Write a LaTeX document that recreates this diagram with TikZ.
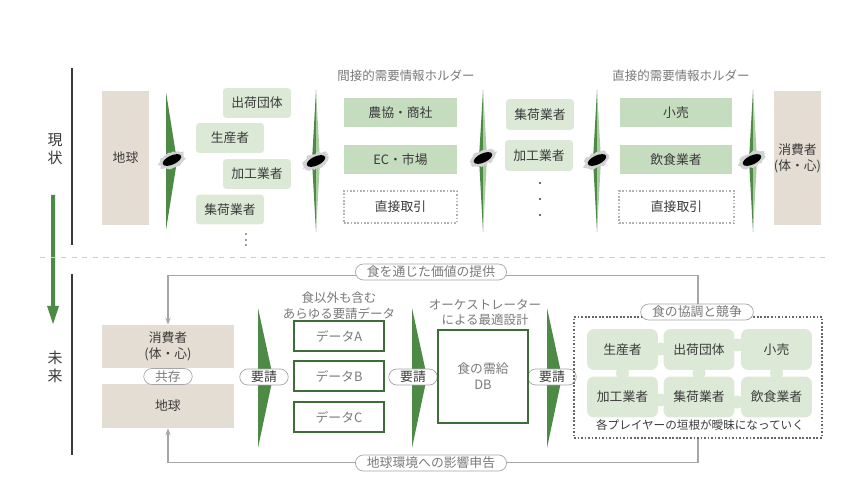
\documentclass[tikz,border=0pt]{standalone}
\usepackage{fontspec}
\setmainfont{Noto Sans CJK JP}
\usetikzlibrary{positioning,shapes.misc,arrows.meta}
\definecolor{beige}{HTML}{E4DDD3}
\definecolor{lgreen}{HTML}{DDE9D7}
\definecolor{mgreen}{HTML}{C5DCBE}
\definecolor{dgreen}{HTML}{4D8A45}
\definecolor{wgreen}{HTML}{A9CB9F}
\definecolor{txt}{HTML}{3A3A3A}
\definecolor{ltxt}{HTML}{7A7A7A}
\def\fnt{\fontsize{7.3}{9}\selectfont}
\def\wedgeA{(166,92) -- (177,161) -- (166,230) -- cycle}
\newcommand\lens[2]{\fill[dgreen] (#1,90) -- (#1-4,#2) -- (#1,232) -- cycle;
  \fill[wgreen] (#1,90) -- (#1+4,#2) -- (#1,232) -- cycle;}
\newcommand\reqwedge[1]{\fill[dgreen] (#1,308) -- (#1+15,377) -- (#1,448) -- cycle;}
\newcommand\crack[2]{\begin{scope}[shift={(#1,#2)}, rotate=25]
  \fill[gray!35] plot[domain=0:350, samples=36, variable=\t] ({(12+4*rnd)*cos(\t)}, {(6+3*rnd)*sin(\t)}) -- cycle;
  \fill[black] (0,0) ellipse (10 and 4.5);
  \end{scope}}
\tikzset{
  every node/.style={font=\fnt, text=txt},
  earthbox/.style={fill=beige, minimum width=0.94cm, minimum height=2.68cm, inner xsep=0pt, align=center},
  lgbox/.style={fill=lgreen, rounded corners=2pt, minimum width=1.36cm, minimum height=0.6cm},
  gbox/.style={fill=mgreen, minimum width=2.26cm, minimum height=0.58cm},
  dotbox/.style={draw=gray!60, densely dotted, line width=0.9pt, minimum width=2.26cm, minimum height=0.64cm},
  title/.style={text=ltxt, font=\fontsize{7.1}{9}\selectfont},
  pill/.style={rounded rectangle, draw=gray!70, fill=white, inner xsep=5pt, inner ysep=1pt, minimum height=0.32cm},
  datbox/.style={draw=dgreen!80!black, line width=1.1pt, fill=white, minimum width=1.8cm, minimum height=0.6cm, text=ltxt},
  piece/.style={fill=lgreen, rounded corners=4pt, minimum width=1.42cm, minimum height=0.82cm},
  fb/.style={draw=gray!70, line width=0.6pt, -{Stealth[length=4pt,width=3pt]}},
}
\begin{document}
\begin{tikzpicture}[x=0.02cm,y=-0.02cm]
\useasboundingbox (0,0) rectangle (860,483);
\fill[white] (0,0) rectangle (860,483);

% 現状
\node[font=\fontsize{8.5}{10.5}\selectfont, align=center] (now) at (55,149) {現\\状};
\draw[txt, line width=0.6pt] (72,68) -- (72,245);
\fill[dgreen] (51,195) -- (55,195) -- (55,306) -- (59,306) -- (53,324) -- (47,306) -- (51,306) -- cycle;
\draw[gray!40, dashed, line width=0.5pt] (40,257) -- (830,257);

\node[earthbox] (earth1) at (125.5,158) {地球};
\node[earthbox] (cons1) at (797.5,158) {消費者\\(体・心)};

\fill[dgreen] \wedgeA;
\lens{316}{161}
\lens{483}{158}
\lens{597}{160}
\lens{753}{160}

\node[lgbox] (ship1) at (257,103) {出荷団体};
\node[lgbox] (prod1) at (230,138) {生産者};
\node[lgbox] (proc1) at (257,174) {加工業者};
\node[lgbox] (coll1) at (230,209.5) {集荷業者};
\foreach \y in {234,240,245} \fill[txt] (246,\y) circle (0.8);

\node[title] (ind) at (406,76) {間接的需要情報ホルダー};
\node[gbox] (ja) at (400.5,112.5) {農協・商社};
\node[gbox] (ec) at (400.5,159.5) {EC・市場};
\node[dotbox] (dir1) at (400.5,207) {直接取引};

\node[lgbox, minimum height=0.62cm] (coll2) at (540,114.5) {集荷業者};
\node[lgbox, minimum height=0.62cm] (proc2) at (539,155.5) {加工業者};
\foreach \y in {183,199,215} \fill[txt] (540,\y) circle (1.1);

\node[title] (dirh) at (681,76) {直接的需要情報ホルダー};
\node[gbox, minimum width=2.24cm] (ret) at (676,112.5) {小売};
\node[gbox, minimum width=2.24cm] (rest) at (676,159.5) {飲食業者};
\node[dotbox, minimum width=2.3cm] (dir2) at (676.5,207) {直接取引};

\crack{172}{160}
\crack{316}{161}
\crack{483}{158}
\crack{597}{160}
\crack{752}{160}

% 未来
\node[font=\fontsize{8.5}{10.5}\selectfont, align=center] (fut) at (55,367) {未\\来};
\draw[txt, line width=0.6pt] (72,274) -- (72,455);

\node[fill=beige, minimum width=2.64cm, minimum height=0.86cm, align=center, inner sep=1pt] (cons2) at (168,346.5) {消費者\\(体・心)};
\node[fill=beige, minimum width=2.64cm, minimum height=0.88cm] (earth2) at (168,406) {地球};
\node[pill, text=ltxt] (coex) at (168,376.5) {共存};

\reqwedge{258}
\reqwedge{412}
\reqwedge{547}
\node[pill] (req1) at (264,377) {要請};
\node[pill] (req2) at (413,377) {要請};
\node[pill] (req3) at (552,377) {要請};

\node[title, align=center] (dtitle) at (339,305.5) {食以外も含む\\あらゆる要請データ};
\node[datbox] (datA) at (339,336) {データA};
\node[datbox] (datB) at (339,376) {データB};
\node[datbox] (datC) at (339,417) {データC};

\node[title, align=center] (otitle) at (485,312.5) {オーケストレーター\\による最適設計};
\node[datbox, minimum width=1.8cm, minimum height=1.86cm, align=center] (db) at (483,376.5) {食の需給\\DB};

\node[draw=gray!80!black, densely dotted, line width=1pt, minimum width=4.96cm, minimum height=2.42cm] (play) at (698,377.5) {};
\node[piece] (prod2) at (622.5,349.5) {生産者};
\node[piece] (ship2) at (699,349.5) {出荷団体};
\node[piece] (ret2) at (776.5,349.5) {小売};
\node[piece] (proc3) at (622.5,397) {加工業者};
\node[piece] (coll3) at (699,397) {集荷業者};
\node[piece] (rest2) at (776.5,397) {飲食業者};
\fill[lgreen] (660.5,349) circle (6.5) (737.5,345) circle (6.5) (660,400) circle (6.5) (737,402) circle (6.5)
  (622.5,373) circle (6.5) (699,373) circle (6.5) (776.5,373) circle (6.5);
\node[font=\fontsize{6.6}{8}\selectfont] (blur) at (700,425) {各プレイヤーの垣根が曖昧になっていく};

\draw[fb] (play.north) -- ++(0,-41) -| (cons2.north);
\draw[fb] (play.south) -- ++(0,24) -| (earth2.south);
\node[pill, text=ltxt] (value) at (431,272) {食を通じた価値の提供};
\node[pill, text=ltxt] (impact) at (431,463) {地球環境への影響申告};
\node[pill, text=ltxt] (coop) at (697,312) {食の協調と競争};
\end{tikzpicture}
\end{document}
